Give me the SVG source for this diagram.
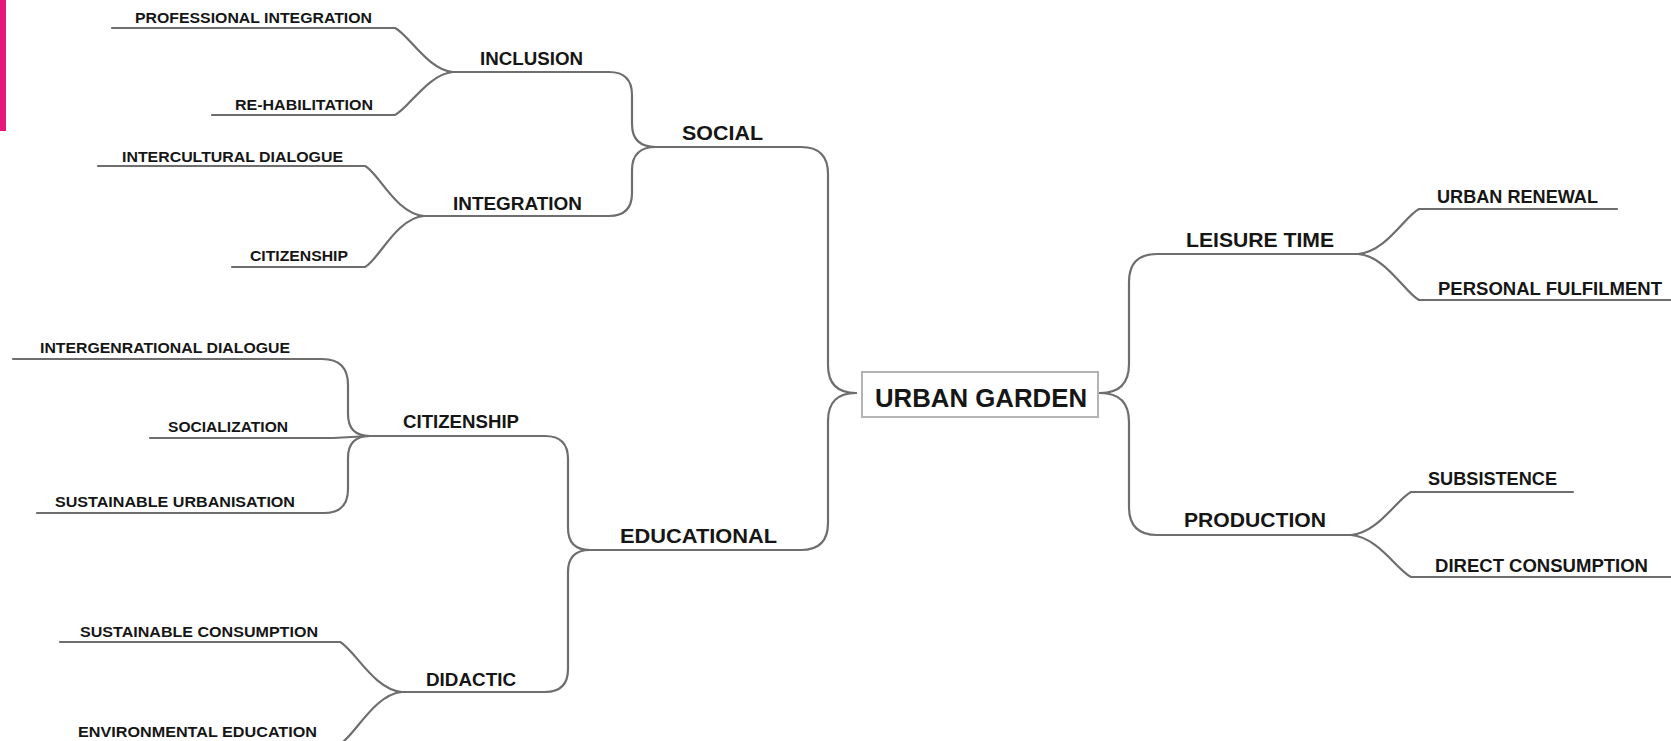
<svg xmlns="http://www.w3.org/2000/svg" width="1671" height="741" viewBox="0 0 1671 741">
<style>
.c{fill:none;stroke:#6e6e6e;stroke-width:2.2;stroke-linecap:round;stroke-linejoin:round}
text{font-family:"Liberation Sans",Arial,sans-serif;font-weight:bold;fill:#161616}
.leaf{font-size:14.5px}
.rleaf{font-size:18px}
.l2{font-size:19px}
.l1{font-size:21px}
.root{font-size:26px}
</style>
<rect width="1671" height="741" fill="#ffffff"/>
<rect x="0" y="0" width="6" height="131" fill="#e5177b"/>
<g id="connectors">
<path class="c" d="M656,147 H801 Q828,147 828,174 V365 Q828,393 856,393"/>
<path class="c" d="M590,550 H801 Q828,550 828,523 V421 Q828,393 856,393"/>
<path class="c" d="M1100,393 Q1129,393 1129,364 V282 Q1129,254 1157,254 H1358"/>
<path class="c" d="M1100,393 Q1129,393 1129,422 V507 Q1129,535 1157,535 H1351"/>
<path class="c" d="M453,72 H609 Q632,72 632,95 V124 Q632,147 656,147"/>
<path class="c" d="M424,216 H609 Q632,216 632,193 V170 Q632,147 656,147"/>
<path class="c" d="M370,436 H545 Q568,436 568,459 V528 Q568,550 590,550"/>
<path class="c" d="M402,692 H545 Q568,692 568,669 V572 Q568,550 590,550"/>
<path class="c" d="M112,28 H395 C408,34 428,70 453,72"/>
<path class="c" d="M212,115 H395 C408,109 428,74 453,72"/>
<path class="c" d="M98,166 H365 C378,172 396,214 424,216"/>
<path class="c" d="M232,267 H365 C378,261 396,218 424,216"/>
<path class="c" d="M13,359 H322 Q348,359 348,385 V414 Q348,436 370,436"/>
<path class="c" d="M150,438 H333 L370,436"/>
<path class="c" d="M37,513 H324 Q348,513 348,489 V458 Q348,436 370,436"/>
<path class="c" d="M60,642 H340 C354,649 374,690 402,692"/>
<path class="c" d="M50,744 H340 C354,737 374,694 402,692"/>
<path class="c" d="M1358,254 C1386,252 1405,216 1419,209 H1617"/>
<path class="c" d="M1358,254 C1386,256 1405,293 1419,300 H1671"/>
<path class="c" d="M1351,535 C1378,533 1397,499 1411,492 H1573"/>
<path class="c" d="M1351,535 C1378,537 1397,570 1411,577 H1671"/>
</g>
<g id="urban-garden">
<rect x="862" y="372" width="236" height="45" fill="#ffffff" stroke="#b4b4b4" stroke-width="2"/>
<text class="root" x="875" y="407" textLength="212" lengthAdjust="spacingAndGlyphs">URBAN GARDEN</text>
</g>
<g id="social"><text class="l1" x="682" y="140" textLength="81" lengthAdjust="spacingAndGlyphs">SOCIAL</text></g>
<g id="educational"><text class="l1" x="620" y="543" textLength="157" lengthAdjust="spacingAndGlyphs">EDUCATIONAL</text></g>
<g id="leisure-time"><text class="l1" x="1186" y="247" textLength="148" lengthAdjust="spacingAndGlyphs">LEISURE TIME</text></g>
<g id="production"><text class="l1" x="1184" y="527" textLength="142" lengthAdjust="spacingAndGlyphs">PRODUCTION</text></g>
<g id="inclusion"><text class="l2" x="480" y="65" textLength="103" lengthAdjust="spacingAndGlyphs">INCLUSION</text></g>
<g id="integration"><text class="l2" x="453" y="210" textLength="129" lengthAdjust="spacingAndGlyphs">INTEGRATION</text></g>
<g id="citizenship-edu"><text class="l2" x="403" y="428" textLength="116" lengthAdjust="spacingAndGlyphs">CITIZENSHIP</text></g>
<g id="didactic"><text class="l2" x="426" y="686" textLength="90" lengthAdjust="spacingAndGlyphs">DIDACTIC</text></g>
<g id="professional-integration"><text class="leaf" x="135" y="23" textLength="237" lengthAdjust="spacingAndGlyphs">PROFESSIONAL INTEGRATION</text></g>
<g id="re-habilitation"><text class="leaf" x="235" y="110" textLength="138" lengthAdjust="spacingAndGlyphs">RE-HABILITATION</text></g>
<g id="intercultural-dialogue"><text class="leaf" x="122" y="162" textLength="221" lengthAdjust="spacingAndGlyphs">INTERCULTURAL DIALOGUE</text></g>
<g id="citizenship-leaf"><text class="leaf" x="250" y="261" textLength="98" lengthAdjust="spacingAndGlyphs">CITIZENSHIP</text></g>
<g id="intergenerational-dialogue"><text class="leaf" x="40" y="353" textLength="250" lengthAdjust="spacingAndGlyphs">INTERGENRATIONAL DIALOGUE</text></g>
<g id="socialization"><text class="leaf" x="168" y="432" textLength="120" lengthAdjust="spacingAndGlyphs">SOCIALIZATION</text></g>
<g id="sustainable-urbanisation"><text class="leaf" x="55" y="507" textLength="240" lengthAdjust="spacingAndGlyphs">SUSTAINABLE URBANISATION</text></g>
<g id="sustainable-consumption"><text class="leaf" x="80" y="637" textLength="238" lengthAdjust="spacingAndGlyphs">SUSTAINABLE CONSUMPTION</text></g>
<g id="environmental-education"><text class="leaf" x="78" y="737" textLength="239" lengthAdjust="spacingAndGlyphs">ENVIRONMENTAL EDUCATION</text></g>
<g id="urban-renewal"><text class="rleaf" x="1437" y="203" textLength="161" lengthAdjust="spacingAndGlyphs">URBAN RENEWAL</text></g>
<g id="personal-fulfilment"><text class="rleaf" x="1438" y="295" textLength="224" lengthAdjust="spacingAndGlyphs">PERSONAL FULFILMENT</text></g>
<g id="subsistence"><text class="rleaf" x="1428" y="485" textLength="129" lengthAdjust="spacingAndGlyphs">SUBSISTENCE</text></g>
<g id="direct-consumption"><text class="rleaf" x="1435" y="572" textLength="213" lengthAdjust="spacingAndGlyphs">DIRECT CONSUMPTION</text></g>
</svg>
